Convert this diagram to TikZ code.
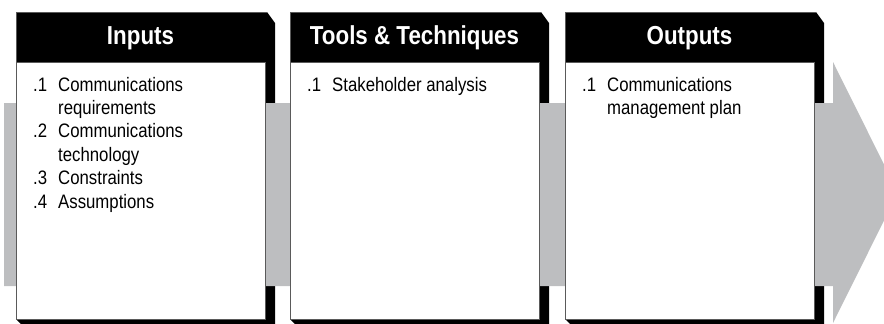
\documentclass[tikz,border=0pt]{standalone}
\usepackage{fontspec}
\setmainfont{Liberation Sans}[FakeStretch=0.86]
\definecolor{bandgray}{HTML}{BDBEC0}
\definecolor{edgegray}{HTML}{5A5A5A}
\begin{document}
\begin{tikzpicture}[x=1pt,y=-1pt,
  shadowfill/.style={fill=black},
  bandfill/.style={fill=bandgray},
  bodybox/.style={draw=edgegray, line width=0.7pt, fill=white},
  topedge/.style={draw=edgegray, line width=0.7pt},
  headtext/.style={text=white, font=\fontsize{26}{30}\selectfont\bfseries, inner sep=0pt, anchor=base},
  itemtext/.style={font=\fontsize{19.5}{23.4}\selectfont, inner sep=0pt, anchor=base west}]
\useasboundingbox (0,0) rectangle (884,324);
\clip (0,0) rectangle (884,324);
% black header + drop shadow of each box
\foreach \x in {16,290,565} {
  \fill[shadowfill] (\x,12) -- (\x+251,12) -- (\x+259,23) -- (\x+259,324) -- (\x+5,324) -- (\x,319) -- cycle;
}
% grey flow band with arrow head
\fill[bandfill] (4,103) -- (833,103) -- (833,62) -- (898,192.5) -- (833,323) -- (833,286) -- (4,286) -- cycle;
% white bodies
\foreach \x in {16,290,565} {
  \draw[bodybox] (\x,62) rectangle (\x+249,319);
  \draw[topedge] (\x,62) -- (\x,12) -- (\x+251,12);
}
% headers
\node[headtext] (h1) at (140.5,45) {Inputs};
\node[headtext] (h2) at (414.5,45) {Tools \& Techniques};
\node[headtext] (h3) at (689.5,45) {Outputs};
% inputs
\node[itemtext] (i1n) at (33,91) {.1};
\node[itemtext] (i1a) at (58,91) {Communications};
\node[itemtext] (i1b) at (58,114.4) {requirements};
\node[itemtext] (i2n) at (33,137.8) {.2};
\node[itemtext] (i2a) at (58,137.8) {Communications};
\node[itemtext] (i2b) at (58,161.2) {technology};
\node[itemtext] (i3n) at (33,184.6) {.3};
\node[itemtext] (i3a) at (58,184.6) {Constraints};
\node[itemtext] (i4n) at (33,208) {.4};
\node[itemtext] (i4a) at (58,208) {Assumptions};
% tools
\node[itemtext] (t1n) at (307,91) {.1};
\node[itemtext] (t1a) at (332,91) {Stakeholder analysis};
% outputs
\node[itemtext] (o1n) at (582,91) {.1};
\node[itemtext] (o1a) at (607,91) {Communications};
\node[itemtext] (o1b) at (607,114.4) {management plan};
\end{tikzpicture}
\end{document}
